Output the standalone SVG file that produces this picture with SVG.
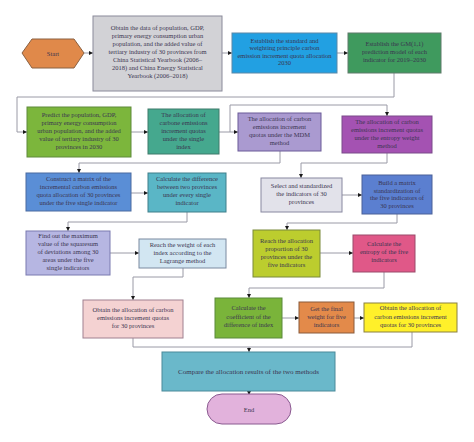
<svg xmlns="http://www.w3.org/2000/svg" width="474" height="442" viewBox="0 0 474 442">
<defs>
<marker id="arr" viewBox="0 0 6 6" refX="6" refY="3" markerWidth="4.5" markerHeight="4.5" orient="auto" markerUnits="userSpaceOnUse">
<path d="M0,0 L6,3 L0,6 Z" fill="#1a1a1a"/>
</marker>
<style>
text{font-family:"Liberation Serif","Times New Roman",serif;font-size:6.5px;text-anchor:middle;fill:#3a3550}
.c{fill:none;stroke:#9a9aa6;stroke-width:1}
.a{marker-end:url(#arr)}
rect,polygon{stroke-width:1}
</style>
</defs>
<rect width="474" height="442" fill="#ffffff"/>

<g id="connectors">
<path class="c a" d="M84,53 H93"/>
<path class="c a" d="M222,53 H232"/>
<path class="c a" d="M337,53 H348"/>
<path class="c a" d="M394,73 V97 H17 V132 H27"/>
<path class="c a" d="M131,132 H148"/>
<path class="c a" d="M219,132 H238"/>
<path class="c a" d="M230,132 V105 H387 V116"/>
<path class="c a" d="M280,151 V163 H79 V173"/>
<path class="c a" d="M387,153 V163 H301 V178"/>
<path class="c a" d="M131,193 H148"/>
<path class="c a" d="M187,212 V222 H68 V231"/>
<path class="c a" d="M110,253 H139"/>
<path class="c a" d="M183,268 V277 H133 V300"/>
<path class="c a" d="M342,195 H362"/>
<path class="c a" d="M397,214 V223 H287 V230"/>
<path class="c a" d="M320,253 H353"/>
<path class="c a" d="M384,272 V288 H249 V298"/>
<path class="c a" d="M282,318 H299"/>
<path class="c a" d="M354,318 H364"/>
<path class="c" d="M133,338 V347 H412 V332"/>
<path class="c a" d="M249,347 V352"/>
<path class="c a" d="M249,391 V395"/>
</g>

<g id="start">
<polygon points="22,53 32,39 74,39 84,53 74,68 32,68" fill="#e0894a" stroke="#8a6040"/>
<text x="53" y="55.5" fill="#6a4020">Start</text>
</g>

<g id="obtain-data">
<rect x="93" y="16" width="129" height="75" fill="#d2d2d6" stroke="#8a8a9a"/>
<text x="157.5" y="29.5">Obtain the data of population, GDP,</text>
<text x="157.5" y="37.5">primary energy consumption urban</text>
<text x="157.5" y="45.5">population, and the added value of</text>
<text x="157.5" y="53.5">tertiary industry of 30 provinces from</text>
<text x="157.5" y="61.5">China Statistical Yearbook (2006–</text>
<text x="157.5" y="69.5">2018) and China Energy Statistical</text>
<text x="157.5" y="77.5">Yearbook (2006–2018)</text>
</g>

<g id="establish">
<rect x="232" y="33" width="105" height="40" fill="#22a0e2" stroke="#5a88a8"/>
<text x="284.5" y="42.5" fill="#5e7a94">Establish the standard and</text>
<text x="284.5" y="50" fill="#5e7a94">weighting principle carbon</text>
<text x="284.5" y="57.5" fill="#5e7a94">emission increment quota allocation</text>
<text x="284.5" y="65" fill="#5e7a94">2030</text>
</g>

<g id="prediction-model">
<rect x="348" y="33" width="93" height="40" fill="#3f9a5e" stroke="#5f7a6a"/>
<text x="394.5" y="45.5" fill="#6a8a70">Establish the GM(1,1)</text>
<text x="394.5" y="53.5" fill="#6a8a70">prediction model of each</text>
<text x="394.5" y="61.5" fill="#6a8a70">indicator for 2019–2030</text>
</g>

<g id="predict">
<rect x="27" y="107" width="104" height="50" fill="#7cb63c" stroke="#5f8a3a"/>
<text x="79" y="117" fill="#d4e4bc">Predict the population, GDP,</text>
<text x="79" y="125" fill="#d4e4bc">primary energy consumption</text>
<text x="79" y="133" fill="#d4e4bc">urban population, and the added</text>
<text x="79" y="141" fill="#d4e4bc">value of tertiary industry of 30</text>
<text x="79" y="149" fill="#d4e4bc">provinces in 2030</text>
</g>

<g id="single-index">
<rect x="148" y="109" width="71" height="45" fill="#45a88e" stroke="#3f7a6a"/>
<text x="183.5" y="117" fill="#b4dccc">The allocation of</text>
<text x="183.5" y="125" fill="#b4dccc">carbone emissions</text>
<text x="183.5" y="133" fill="#b4dccc">increment quotas</text>
<text x="183.5" y="141" fill="#b4dccc">under the single</text>
<text x="183.5" y="149" fill="#b4dccc">index</text>
</g>

<g id="mdm">
<rect x="238" y="113" width="83" height="38" fill="#aa9ad0" stroke="#6a5a98"/>
<text x="279.5" y="121" fill="#5a4a7a">The allocation of carbon</text>
<text x="279.5" y="129" fill="#5a4a7a">emissions increment</text>
<text x="279.5" y="137" fill="#5a4a7a">quotas under the MDM</text>
<text x="279.5" y="145" fill="#5a4a7a">method</text>
</g>

<g id="entropy-method">
<rect x="342" y="116" width="90" height="37" fill="#a452b2" stroke="#7a4a8a"/>
<text x="387" y="124" fill="#8e7296">The allocation of carbon</text>
<text x="387" y="132" fill="#8e7296">emissions increment quotas</text>
<text x="387" y="140" fill="#8e7296">under the entropy weight</text>
<text x="387" y="148" fill="#8e7296">method</text>
</g>

<g id="construct">
<rect x="26" y="173" width="105" height="38" fill="#5a8ed6" stroke="#4a6aa0"/>
<text x="78.5" y="181" fill="#2a3a6a">Construct a matrix of the</text>
<text x="78.5" y="189" fill="#2a3a6a">incremental carbon emissions</text>
<text x="78.5" y="197" fill="#2a3a6a">quota allocation of 30 provinces</text>
<text x="78.5" y="205" fill="#2a3a6a">under the five single indicator</text>
</g>

<g id="calc-difference">
<rect x="148" y="173" width="78" height="39" fill="#5ab6c6" stroke="#3f7f8a"/>
<text x="187" y="181" fill="#2a5060">Calculate the difference</text>
<text x="187" y="189" fill="#2a5060">between two provinces</text>
<text x="187" y="197" fill="#2a5060">under every single</text>
<text x="187" y="205" fill="#2a5060">indicator</text>
</g>

<g id="find-max">
<rect x="26" y="231" width="84" height="44" fill="#b6b6e2" stroke="#7a7ab0"/>
<text x="68" y="238" fill="#3a3a6a">Find out the maximum</text>
<text x="68" y="246" fill="#3a3a6a">value of the squaresum</text>
<text x="68" y="254" fill="#3a3a6a">of deviations among 30</text>
<text x="68" y="262" fill="#3a3a6a">areas under the five</text>
<text x="68" y="270" fill="#3a3a6a">single indicators</text>
</g>

<g id="lagrange">
<rect x="139" y="239" width="87" height="29" fill="#d2e6f2" stroke="#7a8aa0"/>
<text x="182.5" y="246.5" fill="#2a3a5a">Reach the weight of each</text>
<text x="182.5" y="254.5" fill="#2a3a5a">index according to the</text>
<text x="182.5" y="262.5" fill="#2a3a5a">Lagrange method</text>
</g>

<g id="obtain-mdm">
<rect x="83" y="300" width="100" height="38" fill="#f4d2d2" stroke="#a08090"/>
<text x="133" y="312" fill="#4a3040">Obtain the allocation of carbon</text>
<text x="133" y="320" fill="#4a3040">emissions increment quotas</text>
<text x="133" y="328" fill="#4a3040">for 30 provinces</text>
</g>

<g id="select">
<rect x="261" y="178" width="81" height="34" fill="#e2e2ea" stroke="#8888a0"/>
<text x="301.5" y="188" fill="#2a2a40">Select and standardized</text>
<text x="301.5" y="196" fill="#2a2a40">the indicators of 30</text>
<text x="301.5" y="204" fill="#2a2a40">provinces</text>
</g>

<g id="build-matrix">
<rect x="362" y="175" width="70" height="39" fill="#5b7fd0" stroke="#4a6098"/>
<text x="397" y="185" fill="#a8b8e0">Build a matrix</text>
<text x="397" y="192.5" fill="#a8b8e0">standardization of</text>
<text x="397" y="200" fill="#a8b8e0">the five indicators of</text>
<text x="397" y="207.5" fill="#a8b8e0">30 provinces</text>
</g>

<g id="reach-allocation">
<rect x="253" y="230" width="67" height="47" fill="#bccd2e" stroke="#7a8a3a"/>
<text x="286.5" y="243" fill="#4a5020">Reach the allocation</text>
<text x="286.5" y="251" fill="#4a5020">proportion of 30</text>
<text x="286.5" y="259" fill="#4a5020">provinces under the</text>
<text x="286.5" y="267" fill="#4a5020">five indicators</text>
</g>

<g id="entropy">
<rect x="353" y="235" width="62" height="37" fill="#e05888" stroke="#9a4a6a"/>
<text x="384" y="245.5" fill="#b07090">Calculate the</text>
<text x="384" y="253.5" fill="#b07090">entropy of the five</text>
<text x="384" y="261.5" fill="#b07090">indicators</text>
</g>

<g id="coefficient">
<rect x="215" y="298" width="67" height="40" fill="#7ab43a" stroke="#5a8a3a"/>
<text x="248.5" y="310" fill="#4a6a2a">Calculate the</text>
<text x="248.5" y="318.5" fill="#4a6a2a">coefficient of the</text>
<text x="248.5" y="327" fill="#4a6a2a">difference of index</text>
</g>

<g id="final-weight">
<rect x="299" y="302" width="55" height="31" fill="#e38a4a" stroke="#8a5a3a"/>
<text x="326.5" y="310.5" fill="#a0582a">Get the final</text>
<text x="326.5" y="318.5" fill="#a0582a">weight for five</text>
<text x="326.5" y="326.5" fill="#a0582a">indicators</text>
</g>

<g id="obtain-entropy">
<rect x="364" y="303" width="93" height="29" fill="#fff02a" stroke="#8a8040"/>
<text x="410.5" y="310" fill="#5a5020">Obtain the allocation of</text>
<text x="410.5" y="318.5" fill="#5a5020">carbon emissions increment</text>
<text x="410.5" y="327" fill="#5a5020">quotas for 30 provinces</text>
</g>

<g id="compare">
<rect x="162" y="352" width="173" height="39" fill="#6ab8ca" stroke="#4a8a9a"/>
<text x="248.5" y="374" fill="#3a5070" style="font-size:7px">Compare the allocation results of the two methods</text>
</g>

<g id="end">
<rect x="207" y="394" width="84" height="30" rx="15" ry="15" fill="#e2b2dc" stroke="#8a5a90"/>
<text x="249" y="411.5" fill="#4a3050">End</text>
</g>
</svg>
